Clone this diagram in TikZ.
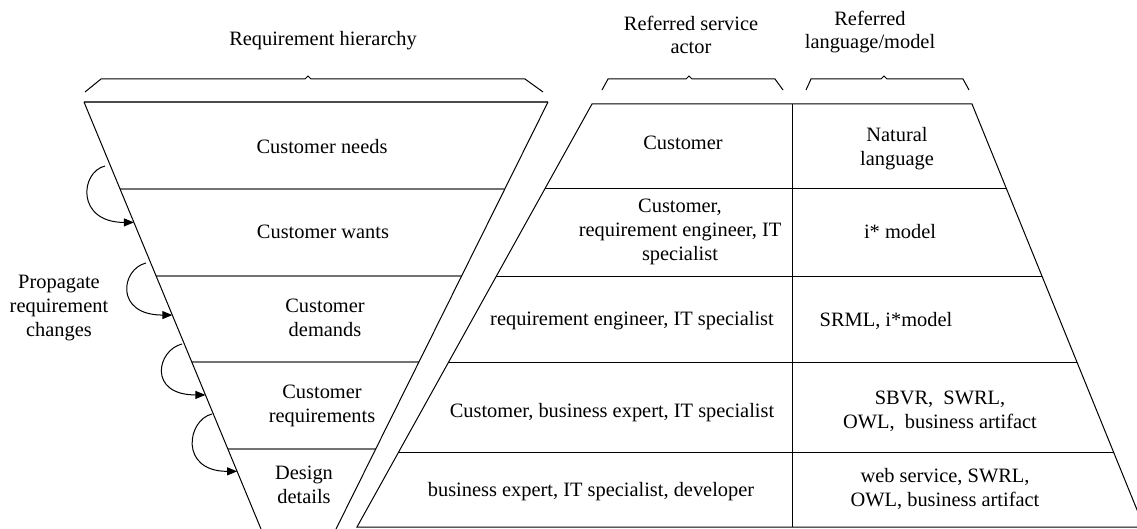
\documentclass[tikz,border=0pt]{standalone}
\usepackage{fontspec}
\setmainfont{Liberation Serif}
\usetikzlibrary{arrows.meta, calc}

\begin{document}
\begin{tikzpicture}[x=1pt, y=-1pt, line width=1pt,
    txt/.style={align=center, inner sep=0pt, font=\fontsize{20.4}{23.8}\selectfont},
    rowline/.style={black!55, line width=1.6pt},
    chg/.style={-{Triangle[length=10pt, width=8pt]}}]
    \useasboundingbox (0,0) rectangle (1137,529);
    \clip (0,0) rectangle (1137,529);
    \coordinate (lt) at (84,102);
    \coordinate (rt) at (548,102);
    \coordinate (lb) at (261,529);
    \coordinate (rb) at (336,529);
    \foreach \t in {0.204, 0.407, 0.609, 0.813}
      \draw[rowline] ($(lt)!\t!(lb)$) -- ($(rt)!\t!(rb)$);
    \draw[black!70, line width=1.4pt] (lt) -- (rt);
    \draw (lb) -- (lt);
    \draw (rt) -- (rb);
    \coordinate (slt) at (592,104);
    \coordinate (srt) at (972,104);
    \coordinate (slb) at (357,527);
    \coordinate (srb) at (1144,527);
    \draw (slb) -- (slt) -- (srt) -- (srb) -- cycle;
    \foreach \t in {0.199, 0.407, 0.612, 0.825}
      \draw ($(slt)!\t!(slb)$) -- ($(srt)!\t!(srb)$);
    \draw (792,104) -- (792,527);
    \draw (85,92) -- (101,79) -- (305,79) -- (308,76) -- (311,79) -- (525,79) -- (543,92);
    \draw (602,90) -- (608,79) -- (686,79) -- (689,76) -- (692,79) -- (775,79) -- (783,90);
    \draw (806,90) -- (811,79) -- (881,79) -- (884,76) -- (887,79) -- (963,79) -- (969,90);
    \foreach \sx/\sy/\t [count=\i] in {105/166/0.282, 146/263/0.499, 182/344/0.686, 212/414/0.865} {
      \coordinate (s\i) at (\sx,\sy);
      \coordinate (e\i) at ($(lt)!\t!(lb)$);
      \draw[chg] (s\i) .. controls +(-25,6) and +(-58,0) .. (e\i);
    }
    \node[txt] (hier) at (323,41) {Requirement hierarchy};
    \node[txt] (actor) at (691,35) {Referred service\\actor};
    \node[txt] (lang) at (870,32) {Referred\\language/model};
    \node[txt] (prop) at (59,308) {Propagate\\requirement\\changes};
    \node[txt] (needs) at (322,147) {Customer needs};
    \node[txt] (wants) at (323,232) {Customer wants};
    \node[txt] (demands) at (325,318) {Customer\\demands};
    \node[txt] (reqs) at (322,406) {Customer\\requirements};
    \node[txt] (design) at (304,485) {Design\\details};
    \node[txt] (actneeds) at (683,143) {Customer};
    \node[txt] (lanneeds) at (897,149) {Natural\\language};
    \node[txt] (actwants) at (680,232) {Customer,\\requirement engineer, IT\\specialist};
    \node[txt] (lanwants) at (900,232) {i* model};
    \node[txt] (actdemands) at (632,321) {requirement engineer, IT specialist};
    \node[txt] (landemands) at (886,321) {SRML, i*model};
    \node[txt] (actreqs) at (612,413) {Customer, business expert, IT specialist};
    \node[txt] (lanreqs) at (940,411) {SBVR,~ SWRL,\\OWL,~ business artifact};
    \node[txt] (actdesign) at (591,492) {business expert, IT specialist, developer};
    \node[txt] (landesign) at (945,489) {web service, SWRL,\\OWL, business artifact};
\end{tikzpicture}
\end{document}
